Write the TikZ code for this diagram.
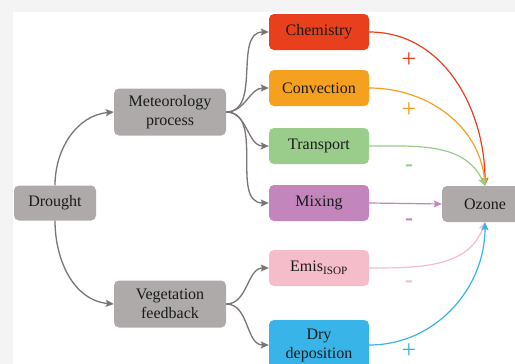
\documentclass[tikz,border=0pt]{standalone}
\usepackage{fontspec}
\setmainfont{Liberation Serif}
\usetikzlibrary{arrows.meta}
\definecolor{bg}{HTML}{F4F4F4}
\definecolor{gr}{HTML}{AEAAAA}
\definecolor{arr}{HTML}{7A7474}
\definecolor{txt}{HTML}{1A1A1A}
\definecolor{chemc}{HTML}{E8401C}
\definecolor{convc}{HTML}{F5A01F}
\definecolor{tranc}{HTML}{9ACD8B}
\definecolor{mixc}{HTML}{C386BC}
\definecolor{emisc}{HTML}{F5BCCA}
\definecolor{dryc}{HTML}{38B4E8}
\tikzset{
  box/.style={rounded corners=5pt,align=center,inner sep=2pt,text=txt,
    minimum width=100pt,minimum height=36pt,font=\fontsize{16}{19}\selectfont},
  gbox/.style={box,fill=gr},
  ar/.style={-{Stealth[length=8pt,width=7pt,inset=1.5pt]},line width=1.3pt,draw=arr},
  car/.style={-{Stealth[length=8pt,width=7pt,inset=1.5pt]},line width=1.2pt},
  sgn/.style={font=\fontsize{26}{26}\selectfont},
  msgn/.style={font=\fontsize{24}{24}\selectfont\bfseries},
}
\begin{document}
\begin{tikzpicture}[x=1pt,y=-1pt]
\useasboundingbox (0,0) rectangle (515,364);
\fill[bg] (0,0) rectangle (515,364);
\fill[white] (13,12) rectangle (515,364);
% ---- left side ----
\node[gbox,minimum width=82pt,minimum height=35pt] (drought) at (55,203) {Drought};
\node[gbox,minimum width=112pt,minimum height=47pt] (met) at (170,112) {Meteorology\\process};
\node[gbox,minimum width=112pt,minimum height=47pt] (veg) at (170,304) {Vegetation\\feedback};
% ---- processes ----
\node[box,fill=chemc] (chem) at (319,32) {Chemistry};
\node[box,fill=convc] (conv) at (319,88) {Convection};
\node[box,fill=tranc] (trans) at (319,146) {Transport};
\node[box,fill=mixc] (mix) at (319,203) {Mixing};
\node[box,fill=emisc] (emis) at (319,268) {Emis\textsubscript{ISOP}};
\node[box,fill=dryc,minimum height=50pt] (dry) at (319,345) {Dry\\deposition};
\node[gbox,minimum width=86pt] (ozone) at (485,204) {Ozone};
% ---- gray arrows ----
\draw[ar] (drought.north) to[out=90,in=185] (met.west);
\draw[ar] (drought.south) to[out=-90,in=175] (veg.west);
\foreach \t in {chem,conv,trans,mix}{\draw[ar] (met.east) to[out=0,in=180] (\t.west);}
\foreach \t in {emis,dry}{\draw[ar] (veg.east) to[out=0,in=180] (\t.west);}
% ---- to ozone ----
\draw[car,chemc] (chem.east) to[out=0,in=90] (ozone.north);
\draw[car,convc] (conv.east) to[out=0,in=95] (ozone.north);
\draw[car,tranc] (trans.east) to[out=0,in=115] (ozone.north);
\draw[car,mixc] (mix.east) -- (ozone.west);
\draw[car,emisc] (emis.east) to[out=0,in=-110] (ozone.south);
\draw[car,dryc] (dry.east) to[out=0,in=-90] (ozone.south);
% ---- signs ----
\node[sgn,text=chemc] (s1) at (409,60) {+};
\node[sgn,text=convc] (s2) at (409,110) {+};
\node[msgn,text=tranc] (s3) at (409,168) {-};
\node[msgn,text=mixc] (s4) at (409,222) {-};
\node[msgn,text=emisc] (s5) at (409,284) {-};
\node[sgn,text=dryc] (s6) at (409,351) {+};
\end{tikzpicture}
\end{document}
